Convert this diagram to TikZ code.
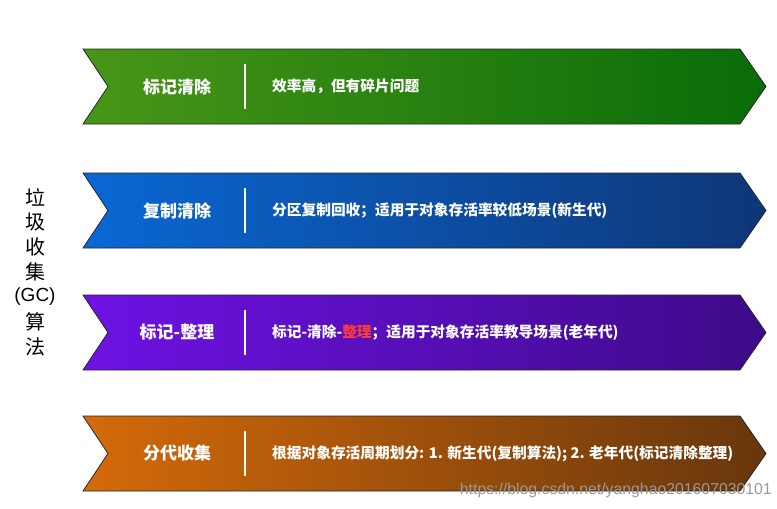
\documentclass[tikz,border=0pt]{standalone}
\usepackage{fontspec}
\setmainfont{Noto Sans CJK SC}
\newfontfamily\wmfont{Liberation Sans}
\definecolor{gL}{RGB}{72,150,24}
\definecolor{gR}{RGB}{8,108,8}
\definecolor{bL}{RGB}{10,104,212}
\definecolor{bR}{RGB}{14,54,118}
\definecolor{pL}{RGB}{110,18,228}
\definecolor{pR}{RGB}{62,10,136}
\definecolor{oL}{RGB}{212,106,10}
\definecolor{oR}{RGB}{104,54,12}
\definecolor{hl}{RGB}{255,60,60}
\tikzset{
  band/.style={draw=black!85, line width=0.8pt},
  title/.style={text=white, font=\bfseries\fontsize{17}{17}\selectfont, anchor=center},
  desc/.style={text=white, font=\bfseries\fontsize{14.7}{15}\selectfont, anchor=west, inner sep=0pt},
  divider/.style={draw=white, line width=1.8pt},
  side/.style={font=\fontsize{20}{20}\selectfont, anchor=center, inner sep=0pt}
}
\begin{document}
\begin{tikzpicture}[x=1pt,y=-1pt]
\useasboundingbox (0,0) rectangle (777,509);
% band 1
\shadedraw[band, left color=gL, right color=gR] (83,49) -- (740,49) -- (766,86.5) -- (740,124) -- (83,124) -- (108,86.5) -- cycle;
\node[title] (t1) at (177,86.5) {标记清除};
\coordinate (d1a) at (245,64); \coordinate (d1b) at (245,109);
\draw[divider] (d1a) -- (d1b);
\node[desc] (s1) at (272,86.5) {效率高，但有碎片问题};
% band 2
\shadedraw[band, left color=bL, right color=bR] (83,173) -- (740,173) -- (766,210.5) -- (740,248) -- (83,248) -- (108,210.5) -- cycle;
\node[title] (t2) at (177,210.5) {复制清除};
\coordinate (d2a) at (245,188); \coordinate (d2b) at (245,233);
\draw[divider] (d2a) -- (d2b);
\node[desc] (s2) at (272,210.5) {分区复制回收；适用于对象存活率较低场景(新生代)};
% band 3
\shadedraw[band, left color=pL, right color=pR] (83,295) -- (740,295) -- (766,332.5) -- (740,370) -- (83,370) -- (108,332.5) -- cycle;
\node[title] (t3) at (177,332.5) {标记-整理};
\coordinate (d3a) at (245,310); \coordinate (d3b) at (245,355);
\draw[divider] (d3a) -- (d3b);
\node[desc] (s3) at (272,332.5) {标记-清除-\textcolor{hl}{整理}；适用于对象存活率教导场景(老年代)};
% band 4
\shadedraw[band, left color=oL, right color=oR] (83,416) -- (740,416) -- (766,453.5) -- (740,491) -- (83,491) -- (108,453.5) -- cycle;
\node[title] (t4) at (177,453.5) {分代收集};
\coordinate (d4a) at (245,431); \coordinate (d4b) at (245,476);
\draw[divider] (d4a) -- (d4b);
\node[desc] (s4) at (272,453.5) {根据对象存活周期划分: 1. 新生代(复制算法); 2. 老年代(标记清除整理)};
% side label
\node[side] (c1) at (35,197) {垃};
\node[side] (c2) at (35,222) {圾};
\node[side] (c3) at (35,247) {收};
\node[side] (c4) at (35,272) {集};
\node[side, font=\wmfont\fontsize{19}{19}\selectfont] (c5) at (35,297) {(GC)};
\node[side] (c6) at (35,322) {算};
\node[side] (c7) at (35,347) {法};
% watermark
\node[anchor=east, inner sep=0pt, text=black!40, font=\wmfont\fontsize{15.8}{16}\selectfont] (wm) at (772,490) {https://blog.csdn.net/yanghao201607030101};
\end{tikzpicture}
\end{document}
